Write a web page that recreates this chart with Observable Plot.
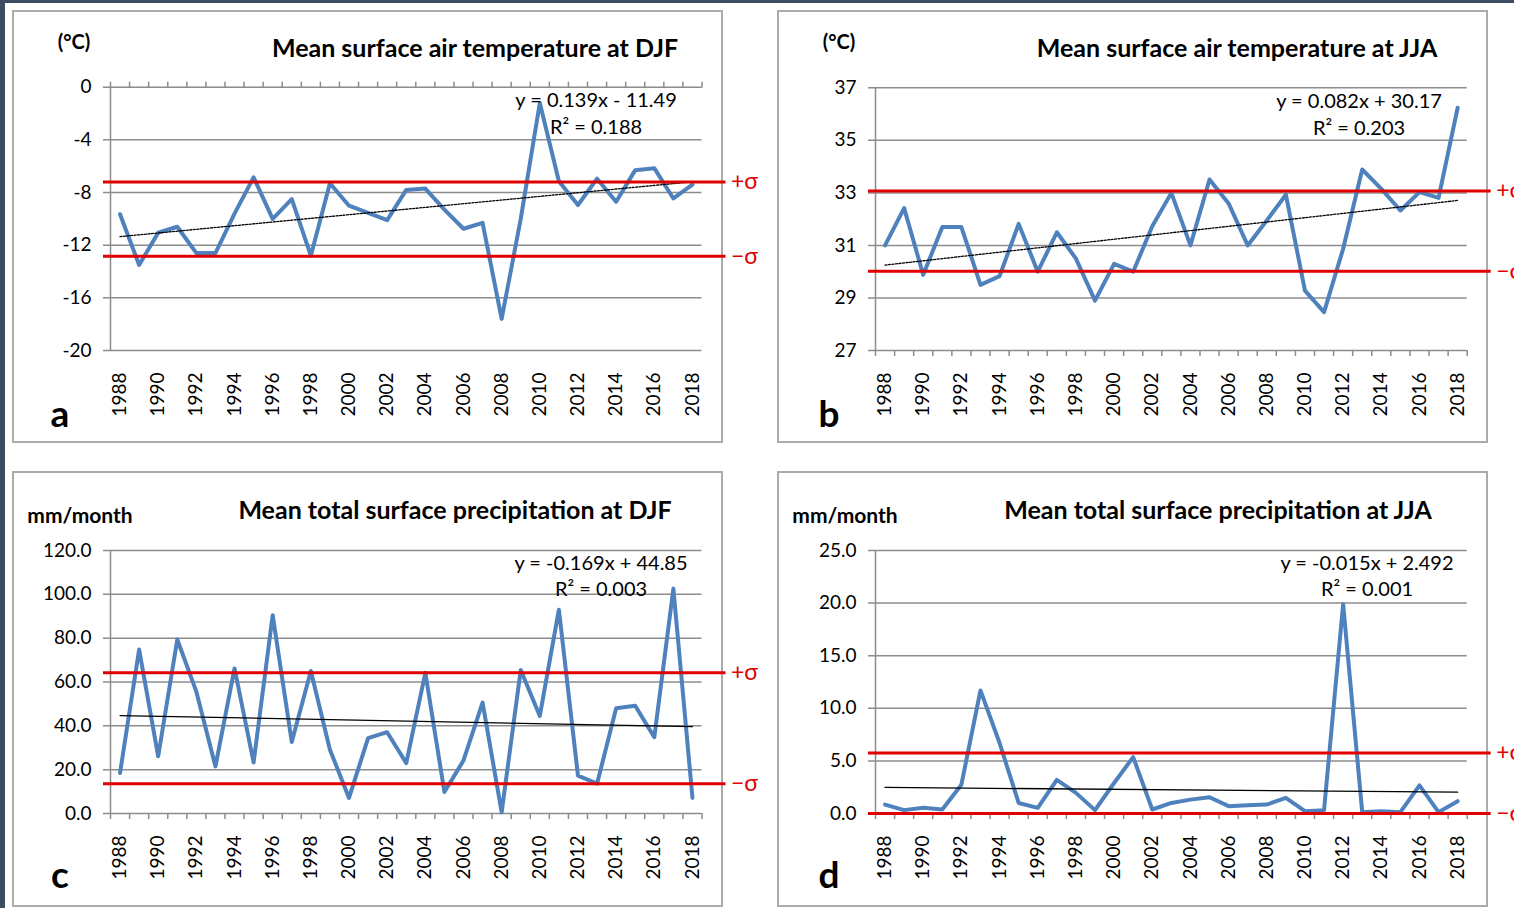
<!DOCTYPE html>
<html>
<head>
<meta charset="utf-8">
<script src="https://cdn.jsdelivr.net/npm/d3@7"></script>
<script src="https://cdn.jsdelivr.net/npm/@observablehq/plot@0.6"></script>
<style>
html,body{margin:0;padding:0;background:#fff;overflow:hidden;}
#fig{position:relative;width:1514px;height:908px;overflow:hidden;background:#fff;font-family:Lato,"Open Sans",sans-serif;color:#000;}
.edgeL{position:absolute;left:0;top:0;width:5px;height:908px;background:#3d4c60;}
.edgeT{position:absolute;left:0;top:0;width:1514px;height:3px;background:#3d4c60;}
.box{position:absolute;border:2px solid #ababab;box-sizing:border-box;}
.plot{position:absolute;}
.lbl{position:absolute;white-space:nowrap;transform:translate(-50%,-50%);line-height:1;}
.title{font-weight:bold;font-size:25px;}
.unit{font-weight:bold;font-size:20px;}
.unit2{font-weight:bold;font-size:21px;}
.letter{font-weight:bold;font-size:37px;}
.eq{font-size:20px;}
</style>
</head>
<body>
<div id="fig">
  <div class="edgeL"></div><div class="edgeT"></div>
</div>
<script>
// ---------- data ----------
const years = [1988,1989,1990,1991,1992,1993,1994,1995,1996,1997,1998,1999,2000,2001,2002,2003,
               2004,2005,2006,2007,2008,2009,2010,2011,2012,2013,2014,2015,2016,2017,2018];
const yearLabels = [1988,1990,1992,1994,1996,1998,2000,2002,2004,2006,2008,2010,2012,2014,2016,2018];

const tempDJF = [-9.65,-13.5,-11.05,-10.6,-12.6,-12.6,-9.6,-6.85,-10.0,-8.5,-12.8,-7.3,-9.0,-9.55,-10.1,-7.8,
                 -7.7,-9.3,-10.75,-10.3,-17.6,-10.0,-1.2,-7.15,-8.95,-6.95,-8.7,-6.3,-6.15,-8.45,-7.4];
const tempJJA = [31.0,32.42,29.88,31.7,31.7,29.5,29.83,31.82,30.0,31.5,30.5,28.9,30.3,30.0,31.73,33.0,
                 31.0,33.51,32.6,31.0,31.95,32.93,29.28,28.46,30.87,33.89,33.15,32.33,33.03,32.81,36.24];
const precipDJF = [18.5,74.8,26.1,79.4,55.6,21.5,66.2,23.3,90.5,32.6,65.0,29.1,7.1,34.4,37.1,23.0,
                   64.2,9.8,24.2,50.6,0.6,65.5,44.5,93.0,17.3,13.6,48.0,49.2,34.8,102.6,7.1];
const precipJJA = [0.85,0.32,0.54,0.38,2.74,11.7,6.7,1.0,0.54,3.2,1.96,0.32,2.9,5.36,0.38,1.0,
                   1.32,1.55,0.7,0.79,0.85,1.48,0.22,0.32,19.9,0.13,0.22,0.13,2.68,0.13,1.17];

const ticksTempDJF = [-20,-16,-12,-8,-4,0];
const ticksTempJJA = [27,29,31,33,35,37];
const ticksPrecipDJF = [0,20,40,60,80,100,120];
const ticksPrecipJJA = [0,5,10,15,20,25];

const sigmaTempDJF = [-7.2, -12.85];
const sigmaTempJJA = [33.07, 30.02];
const sigmaPrecipDJF = [64.2, 13.6];
const sigmaPrecipJJA = [5.74, 0.0];

const trendTempDJF = [0.139, -11.49];
const trendTempJJA = [0.082, 30.17];
const trendPrecipDJF = [-0.169, 44.85];
const trendPrecipJJA = [-0.015, 2.492];

const titles = ["Mean surface air temperature at DJF","Mean surface air temperature at JJA",
                "Mean total surface precipitation at DJF","Mean total surface precipitation at JJA"];
const units = ["(°C)","(°C)","mm/month","mm/month"];
const letters = ["a","b","c","d"];
const equations = ["y = 0.139x - 11.49","y = 0.082x + 30.17","y = -0.169x + 44.85","y = -0.015x + 2.492"];
const r2Texts = ["R² = 0.188","R² = 0.203","R² = 0.003","R² = 0.001"];

// ---------- layout ----------
const layouts = [
  {left:12, top:10, w:760, h:433, boxW:711, boxH:433, ml:98, mr:70.5, mt:76.7, mb:93, unitCls:"unit",
   title:[475,47], unit:[74,41], letter:[60,412], eq:[596,99], r2:[596,126], axisTop:true, dash:"2,1.5"},
  {left:777, top:10, w:737, h:433, boxW:711, boxH:433, ml:98, mr:47.3, mt:77.3, mb:93, unitCls:"unit",
   title:[1237,47], unit:[839,41], letter:[829,412], eq:[1359,100], r2:[1359,127], axisTop:false, dash:"2,1.5"},
  {left:12, top:471, w:760, h:436, boxW:711, boxH:436, ml:98, mr:70.5, mt:79, mb:94, unitCls:"unit2",
   title:[455,509], unit:[80,514], letter:[60,873], eq:[601,562], r2:[601,588], axisTop:false, dash:null},
  {left:777, top:471, w:737, h:436, boxW:711, boxH:436, ml:98, mr:47.3, mt:79, mb:94, unitCls:"unit2",
   title:[1218,509], unit:[845,514], letter:[829,873], eq:[1367,562], r2:[1367,588], axisTop:false, dash:null}
];

const series = [tempDJF, tempJJA, precipDJF, precipJJA];
const tickSets = [ticksTempDJF, ticksTempJJA, ticksPrecipDJF, ticksPrecipJJA];
const sigmas = [sigmaTempDJF, sigmaTempJJA, sigmaPrecipDJF, sigmaPrecipJJA];
const trends = [trendTempDJF, trendTempJJA, trendPrecipDJF, trendPrecipJJA];
const formats = [d => String(d), d => String(d), d => d.toFixed(1), d => d.toFixed(1)];

const fig = document.getElementById("fig");
const GRID = "#8c8c8c", BLUE = "#4f81bd", RED = "#e00000";

function addLabel(cls, text, pos){
  const el = document.createElement("div");
  el.className = "lbl " + cls;
  el.textContent = text;
  el.style.left = pos[0] + "px";
  el.style.top = pos[1] + "px";
  fig.appendChild(el);
}

layouts.forEach((L, k) => {
  const box = document.createElement("div");
  box.className = "box";
  Object.assign(box.style, {left: L.left + "px", top: L.top + "px", width: L.boxW + "px", height: L.boxH + "px"});
  fig.appendChild(box);

  const data = years.map((year, i) => ({year, v: series[k][i]}));
  const x0 = years[0] - 0.5, x1 = years[years.length - 1] + 0.5;
  const boundaries = d3.range(x0, x1 + 0.001, 1);
  const ticks = tickSets[k];
  const [slope, intercept] = trends[k];
  const trendData = [
    {year: years[0], v: slope * 1 + intercept},
    {year: years[years.length - 1], v: slope * years.length + intercept}
  ];
  const sigmaData = [{v: sigmas[k][0], t: "+σ"}, {v: sigmas[k][1], t: "−σ"}];

  const chart = Plot.plot({
    width: L.w, height: L.h,
    marginLeft: L.ml, marginRight: L.mr, marginTop: L.mt, marginBottom: L.mb,
    style: {fontFamily: "Lato, 'Open Sans', sans-serif", fontSize: "19px", background: "transparent", overflow: "visible"},
    x: {domain: [x0, x1]},
    y: {domain: [ticks[0], ticks[ticks.length - 1]]},
    marks: [
      Plot.ruleY(ticks, {stroke: GRID, strokeWidth: 1.5, insetLeft: -7}),
      Plot.ruleX([x0], {stroke: GRID, strokeWidth: 1.5}),
      Plot.axisY({ticks, tickSize: 0, tickPadding: 19, tickFormat: formats[k], fontSize: 19, label: null}),
      Plot.axisX({anchor: L.axisTop ? "top" : "bottom", ticks: boundaries, tickSize: 6, tickFormat: () => "", stroke: GRID, strokeWidth: 1.5, label: null}),
      Plot.axisX({anchor: "bottom", ticks: yearLabels, tickSize: 0, tickPadding: 22, tickRotate: -90, tickFormat: d => String(d), fontSize: 19, label: null}),
      Plot.lineY(data, {x: "year", y: "v", stroke: BLUE, strokeWidth: 4, strokeLinejoin: "round"}),
      Plot.line(trendData, {x: "year", y: "v", stroke: "#000", strokeWidth: 1.3, strokeDasharray: L.dash}),
      Plot.ruleY(sigmaData, {y: "v", stroke: RED, strokeWidth: 3, insetLeft: -7, insetRight: -24}),
      Plot.text(sigmaData, {y: "v", text: "t", frameAnchor: "right", dx: 29, textAnchor: "start", fill: RED, fontSize: 23})
    ]
  });
  const holder = document.createElement("div");
  holder.className = "plot";
  holder.style.left = L.left + "px";
  holder.style.top = L.top + "px";
  holder.appendChild(chart);
  fig.appendChild(holder);

  addLabel("title", titles[k], L.title);
  addLabel(L.unitCls, units[k], L.unit);
  addLabel("letter", letters[k], L.letter);
  addLabel("eq", equations[k], L.eq);
  addLabel("eq", r2Texts[k], L.r2);
});
</script>
</body>
</html>
